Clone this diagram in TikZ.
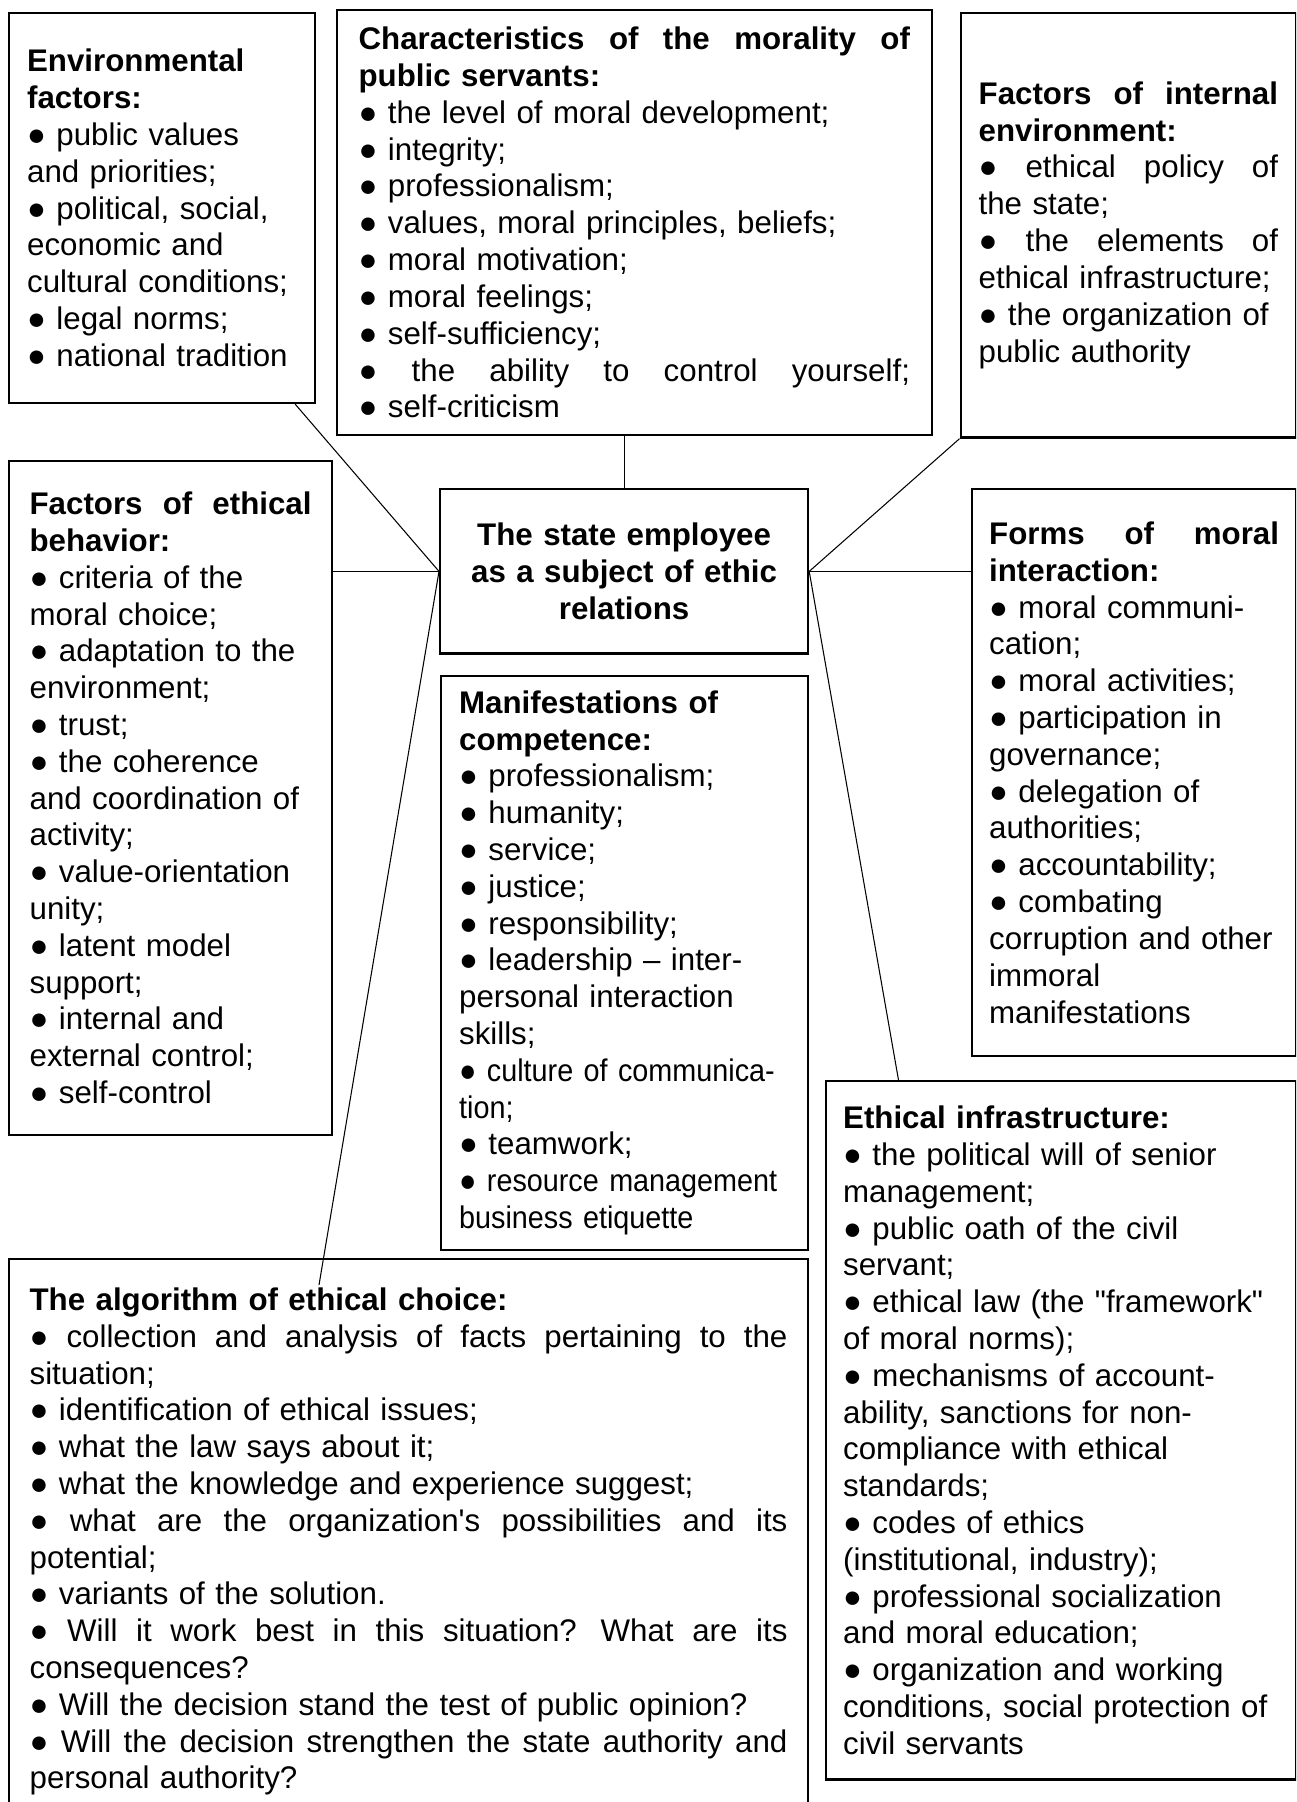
\documentclass[tikz,border=0pt]{standalone}
\usepackage{fontspec}
\setmainfont{Liberation Sans}
\newfontfamily\condfont[FakeStretch=0.92]{Liberation Sans}
\usetikzlibrary{calc}

\newcommand\boxfont{\fontsize{17.8pt}{20.95pt}\selectfont\hyphenpenalty=10000 \exhyphenpenalty=10000 }

\begin{document}
\begin{tikzpicture}[
    x=0.02cm, y=-0.02cm,
    box/.style={draw, line width=1.3pt, anchor=north west, inner xsep=0.36cm, inner ysep=0pt, align=left, font=\boxfont},
    link/.style={line width=0.6pt}
  ]
  \useasboundingbox (0,0) rectangle (1296,1802);
  \clip (0,0) rectangle (1296,1802);

  % Top row
  \node[box, text width=5.4cm, minimum height=7.81cm] (env) at (8,11.5) {%
    \textbf{Environmental}\\
    \textbf{factors:}\\
    ● public values\\
    and priorities;\\
    ● political, social,\\
    economic and\\
    cultural conditions;\\
    ● legal norms;\\
    ● national tradition};
  \node[box, inner xsep=0.44cm, text width=11.03cm, minimum height=8.5cm] (char) at (335.5,9) {%
    \textbf{Characteristics \hfill of \hfill the \hfill morality \hfill of}\\
    \textbf{public servants:}\\
    ● the level of moral development;\\
    ● integrity;\\
    ● professionalism;\\
    ● values, moral principles, beliefs;\\
    ● moral motivation;\\
    ● moral feelings;\\
    ● self-sufficiency;\\
    ● \hfill the \hfill ability \hfill to \hfill control \hfill yourself;\\
    ● self-criticism};
  \node[box, text width=5.99cm, minimum height=8.5cm] (internal) at (959.5,11.5) {%
    \textbf{Factors \hfill of \hfill internal}\\
    \textbf{environment:}\\
    ● \hfill ethical \hfill policy \hfill of\\
    the state;\\
    ● \hfill the \hfill elements \hfill of\\
    ethical infrastructure;\\
    ● the organization of\\
    public authority};

  % Middle row
  \node[box, inner xsep=0.41cm, text width=5.64cm, minimum height=13.49cm] (behav) at (8,459.6) {%
    \textbf{Factors \hfill of \hfill ethical}\\
    \textbf{behavior:}\\
    ● criteria of the\\
    moral choice;\\
    ● adaptation to the\\
    environment;\\
    ● trust;\\
    ● the coherence\\
    and coordination of\\
    activity;\\
    ● value-orientation\\
    unity;\\
    ● latent model\\
    support;\\
    ● internal and\\
    external control;\\
    ● self-control};
  \node[box, align=center, text width=6.64cm, minimum height=3.29cm] (central) at (439,488) {%
    \textbf{The state employee}\\
    \textbf{as a subject of ethic}\\
    \textbf{relations}};
  \node[box, text width=6.62cm, minimum height=11.49cm] (manif) at (440,674.5) {%
    \textbf{Manifestations of}\\
    \textbf{competence:}\\
    ● professionalism;\\
    ● humanity;\\
    ● service;\\
    ● justice;\\
    ● responsibility;\\
    ● leadership – inter-\\
    personal interaction\\
    skills;\\
    {\condfont ● culture of communica-}\\
    {\condfont tion;}\\
    ● teamwork;\\
    {\condfont ● resource management}\\
    {\condfont business etiquette}};
  \node[box, inner xsep=0.34cm, text width=5.8cm, minimum height=11.34cm] (forms) at (971,488) {%
    \textbf{Forms \hfill of \hfill moral}\\
    \textbf{interaction:}\\
    ● moral communi-\\
    cation;\\
    ● moral activities;\\
    ● participation in\\
    governance;\\
    ● delegation of\\
    authorities;\\
    ● accountability;\\
    ● combating\\
    corruption and other\\
    immoral\\
    manifestations};

  % Bottom row
  \node[box, inner xsep=0.34cm, text width=8.72cm, minimum height=13.97cm] (infra) at (825,1080) {%
    \textbf{Ethical infrastructure:}\\
    ● the political will of senior\\
    management;\\
    ● public oath of the civil\\
    servant;\\
    ● ethical law (the \textquotedbl framework\textquotedbl\\
    of moral norms);\\
    ● mechanisms of account-\\
    ability, sanctions for non-\\
    compliance with ethical\\
    standards;\\
    ● codes of ethics\\
    (institutional, industry);\\
    ● professional socialization\\
    and moral education;\\
    ● organization and working\\
    conditions, social protection of\\
    civil servants};
  \node[box, inner xsep=0.41cm, text width=15.16cm, minimum height=11.3cm] (algo) at (8,1258) {%
    \textbf{The algorithm of ethical choice:}\\
    ● \hfill collection \hfill and \hfill analysis \hfill of \hfill facts \hfill pertaining \hfill to \hfill the\\
    situation;\\
    ● identification of ethical issues;\\
    ● what the law says about it;\\
    ● what the knowledge and experience suggest;\\
    ● \hfill what \hfill are \hfill the \hfill organization\textquotesingle s \hfill possibilities \hfill and \hfill its\\
    potential;\\
    ● variants of the solution.\\
    ● \hfill Will \hfill it \hfill work \hfill best \hfill in \hfill this \hfill situation? \hfill What \hfill are \hfill its\\
    consequences?\\
    ● Will the decision stand the test of public opinion?\\
    ● \hfill Will \hfill the \hfill decision \hfill strengthen \hfill the \hfill state \hfill authority \hfill and\\
    personal authority?};

  % Connectors
  \coordinate (env-foot) at ($(env.south east)+(-21,0)$);
  \coordinate (algo-foot) at ($(algo.north west)+(311,27)$);
  \coordinate (infra-foot) at ($(infra.north west)+(73.5,0)$);
  \draw[link] (env-foot) -- (central.west);
  \draw[link] (central.north) -- (central.north |- char.south);
  \draw[link] (internal.south west) -- (central.east);
  \draw[link] (central.west -| behav.east) -- (central.west);
  \draw[link] (central.east) -- (central.east -| forms.west);
  \draw[link] (central.west) -- (algo-foot);
  \draw[link] (central.east) -- (infra-foot);

\end{tikzpicture}
\end{document}
